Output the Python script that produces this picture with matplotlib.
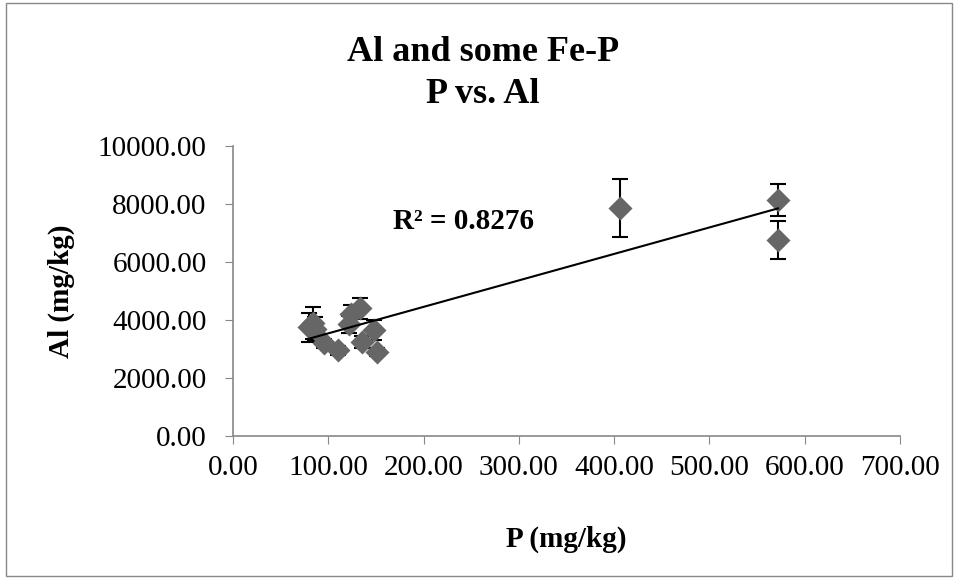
import matplotlib
matplotlib.use("Agg")
import matplotlib.pyplot as plt
from matplotlib.patches import Rectangle
import numpy as np

plt.rcParams['font.family'] = ['Liberation Serif', 'DejaVu Serif']

P = [80, 84, 86, 95, 110, 122, 124, 133, 135, 148, 151, 406, 572, 572]
Al = [3750, 3900, 3700, 3200, 2950, 3850, 4200, 4400, 3250, 3650, 2900, 7850, 8150, 6750]
Al_err = [500, 550, 400, 150, 150, 300, 300, 350, 200, 350, 150, 1000, 550, 650]

title_lines = ["Al and some Fe-P", "P vs. Al"]
x_label = "P (mg/kg)"
y_label = "Al (mg/kg)"
r2_text = "R² = 0.8276"
x_ticks = [0, 100, 200, 300, 400, 500, 600, 700]
y_ticks = [0, 2000, 4000, 6000, 8000, 10000]

fig = plt.figure(figsize=(9.58, 5.78), dpi=100)
fig.patches.append(Rectangle((0.006, 0.004), 0.988, 0.99, transform=fig.transFigure,
                             fill=False, edgecolor='#888888', linewidth=1))
ax = fig.add_axes([0.2432, 0.2457, 0.6963, 0.5017])

ax.errorbar(P, Al, yerr=Al_err, fmt='none', ecolor='black', elinewidth=1.5,
            capsize=6, capthick=1.5, zorder=2)
ax.scatter(P, Al, marker='D', s=150, color='#666666', zorder=3, linewidths=0)

coef = np.polyfit(P, Al, 1)
xs = np.array([min(P), max(P)])
ax.plot(xs, np.polyval(coef, xs), color='black', linewidth=1.5, zorder=4)

ax.set_xlim(0, 700)
ax.set_ylim(0, 10000)
ax.set_xticks(x_ticks)
ax.set_yticks(y_ticks)
ax.set_xticklabels([f"{v:.2f}" for v in x_ticks])
ax.set_yticklabels([f"{v:.2f}" for v in y_ticks])
ax.tick_params(axis='both', labelsize=21, direction='out', length=6, color='#888888')
ax.tick_params(axis='y', pad=13)
ax.tick_params(axis='x', pad=8)
for s in ['top', 'right']:
    ax.spines[s].set_visible(False)
for s in ['left', 'bottom']:
    ax.spines[s].set_color('#888888')
    ax.spines[s].set_linewidth(1.2)

ax.set_xlabel(x_label, fontsize=21, fontweight='bold', labelpad=32)
ax.set_ylabel(y_label, fontsize=21, fontweight='bold', labelpad=16)

fig.text(0.504, 0.8945, title_lines[0], ha='center', va='baseline', fontsize=26, fontweight='bold')
fig.text(0.504, 0.8218, title_lines[1], ha='center', va='baseline', fontsize=26, fontweight='bold')

ax.text(0.24, 0.741, r2_text, transform=ax.transAxes, fontsize=21, fontweight='bold',
        ha='left', va='center')

fig.savefig("out.png", dpi=100)
